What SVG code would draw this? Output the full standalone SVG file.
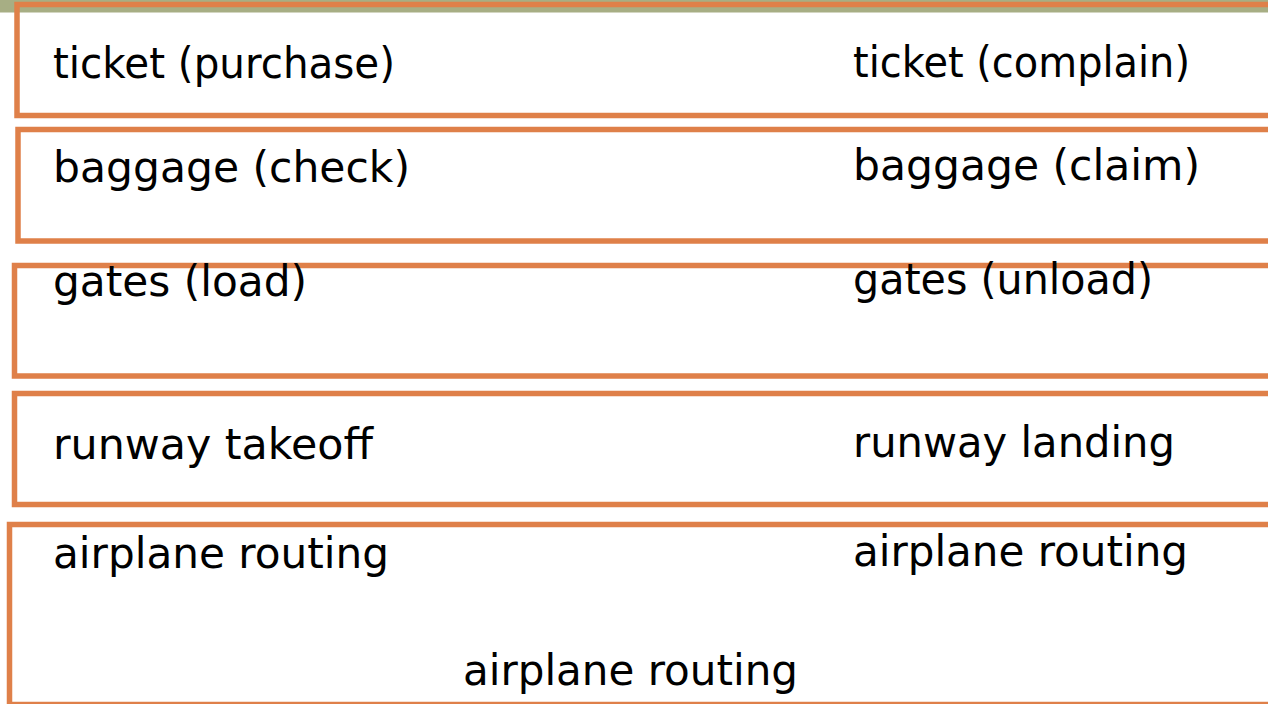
<svg xmlns="http://www.w3.org/2000/svg" width="1268" height="704" viewBox="0 0 1268 704">
  <style>
    .band { fill: #a7ae84; }
    .box { fill: none; stroke: #df8049; stroke-width: 5.5; }
    .lbl { font-family: "DejaVu Sans", "Liberation Sans", sans-serif; font-size: 42px; fill: #000000; }
  </style>
  <rect x="0" y="0" width="1268" height="704" fill="#ffffff"/>
  <rect class="band" x="0" y="0" width="1268" height="12.5"/>

  <!-- layer boxes, open past the right edge -->
  <g id="layer-ticket">
    <rect class="box" x="17" y="4.5" width="1290" height="111"/>
    <text class="lbl" x="53" y="78" textLength="342" lengthAdjust="spacingAndGlyphs">ticket (purchase)</text>
    <text class="lbl" x="853" y="77" textLength="337" lengthAdjust="spacingAndGlyphs">ticket (complain)</text>
  </g>
  <g id="layer-baggage">
    <rect class="box" x="18" y="129.5" width="1290" height="111.5"/>
    <text class="lbl" x="53" y="182" textLength="357" lengthAdjust="spacingAndGlyphs">baggage (check)</text>
    <text class="lbl" x="853" y="180" textLength="347" lengthAdjust="spacingAndGlyphs">baggage (claim)</text>
  </g>
  <g id="layer-gates">
    <rect class="box" x="14.5" y="265.5" width="1290" height="110.5"/>
    <text class="lbl" x="53" y="296" textLength="254" lengthAdjust="spacingAndGlyphs">gates (load)</text>
    <text class="lbl" x="853" y="294" textLength="300" lengthAdjust="spacingAndGlyphs">gates (unload)</text>
  </g>
  <g id="layer-runway">
    <rect class="box" x="14.5" y="393.5" width="1290" height="111"/>
    <text class="lbl" x="53" y="459" textLength="320" lengthAdjust="spacingAndGlyphs">runway takeoff</text>
    <text class="lbl" x="853" y="457" textLength="322" lengthAdjust="spacingAndGlyphs">runway landing</text>
  </g>
  <g id="layer-routing">
    <rect class="box" x="9.5" y="524.5" width="1290" height="180"/>
    <text class="lbl" x="53" y="568" textLength="336" lengthAdjust="spacingAndGlyphs">airplane routing</text>
    <text class="lbl" x="853" y="566" textLength="335" lengthAdjust="spacingAndGlyphs">airplane routing</text>
    <text class="lbl" x="463" y="685" textLength="335" lengthAdjust="spacingAndGlyphs">airplane routing</text>
  </g>
  <g id="connectors"/>
</svg>
